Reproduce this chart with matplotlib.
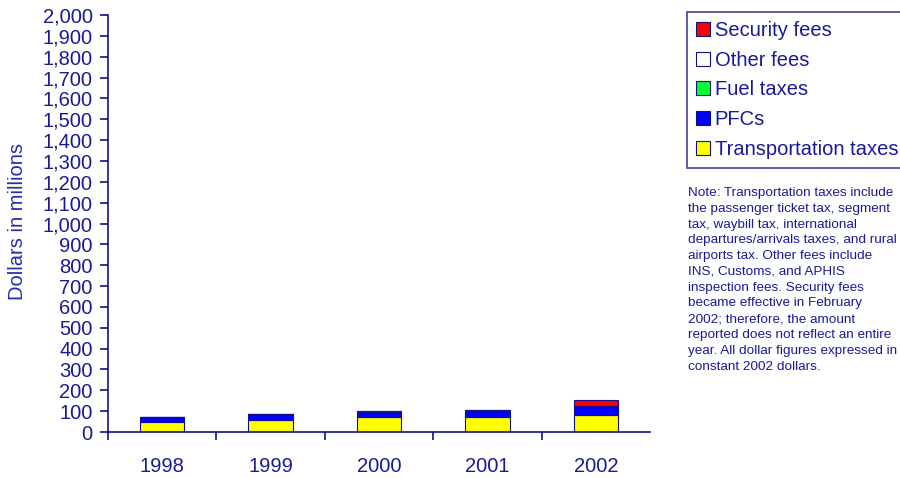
import matplotlib
matplotlib.use("Agg")
import matplotlib.pyplot as plt
import numpy as np
from matplotlib.patches import Patch

NAVY = "#10108a"
TXT = "#1a1a99"

years = ["1998", "1999", "2000", "2001", "2002"]
transportation = [46, 59, 70, 70, 82]
pfcs = [26, 25, 25, 32, 40]
fuel = [0.5, 0.5, 2, 0.5, 0.5]
other = [1, 2, 6, 2, 3]
security = [0, 0, 0, 0, 26]

series = [
    ("Transportation taxes", transportation, "#ffff00"),
    ("PFCs", pfcs, "#0000ff"),
    ("Fuel taxes", fuel, "#00ff33"),
    ("Other fees", other, "#ffffff"),
    ("Security fees", security, "#ff0000"),
]

plt.rcParams["font.family"] = ["Liberation Sans", "DejaVu Sans"]
FS = 14.5

fig = plt.figure(figsize=(9, 4.78), dpi=100)
ax = fig.add_axes([108 / 900, 1 - 432 / 478, 542 / 900, 417 / 478])

x = np.arange(len(years))
bottom = np.zeros(len(years))
for name, vals, col in series:
    vals = np.array(vals, dtype=float)
    ax.bar(x, vals, bottom=bottom, width=0.41, color=col, edgecolor=NAVY, linewidth=0.8)
    bottom += vals

ax.set_xlim(-0.5, len(years) - 0.5)
ax.set_ylim(0, 2000)
ax.set_yticks(np.arange(0, 2001, 100))
ax.set_yticklabels([f"{v:,}" for v in range(0, 2001, 100)])
ax.set_xticks(x)
ax.set_xticklabels(years)
ax.set_xticks(np.arange(-0.5, len(years) - 0.5, 1), minor=True)

for s in ["top", "right"]:
    ax.spines[s].set_visible(False)
for s in ["left", "bottom"]:
    ax.spines[s].set_color(NAVY)
    ax.spines[s].set_linewidth(1.2)

ax.tick_params(axis="y", colors=NAVY, labelcolor=TXT, labelsize=FS, length=5.5, width=1.2, pad=5.5)
ax.tick_params(axis="x", which="major", length=0, labelcolor=TXT, labelsize=FS, pad=18)
ax.tick_params(axis="x", which="minor", length=6, width=1.2, colors=NAVY)

fig.text(18 / 900, 1 - 222 / 478, "Dollars in millions", rotation=90, va="center", ha="center",
         fontsize=FS, color="#2a2ab0")

handles = [Patch(facecolor=col, edgecolor=NAVY, linewidth=0.8, label=name)
           for name, vals, col in reversed(series)]
leg = fig.legend(handles=handles, loc="upper left", bbox_to_anchor=(687 / 900, 1 - 12 / 478),
                 fontsize=FS, frameon=True, fancybox=False, handlelength=0.68, handleheight=0.68,
                 handletextpad=0.25, labelspacing=0.53, borderpad=0.45, borderaxespad=0)
leg.get_frame().set_edgecolor(NAVY)
leg.get_frame().set_linewidth(1.2)
for t in leg.get_texts():
    t.set_color(TXT)

note = ("Note: Transportation taxes include\n"
        "the passenger ticket tax, segment\n"
        "tax, waybill tax, international\n"
        "departures/arrivals taxes, and rural\n"
        "airports tax. Other fees include\n"
        "INS, Customs, and APHIS\n"
        "inspection fees. Security fees\n"
        "became effective in February\n"
        "2002; therefore, the amount\n"
        "reported does not reflect an entire\n"
        "year. All dollar figures expressed in\n"
        "constant 2002 dollars.")
fig.text(688 / 900, 1 - 187 / 478, note, ha="left", va="top", fontsize=9.7, color=TXT,
         linespacing=1.42)

fig.savefig("out.png", dpi=100)
